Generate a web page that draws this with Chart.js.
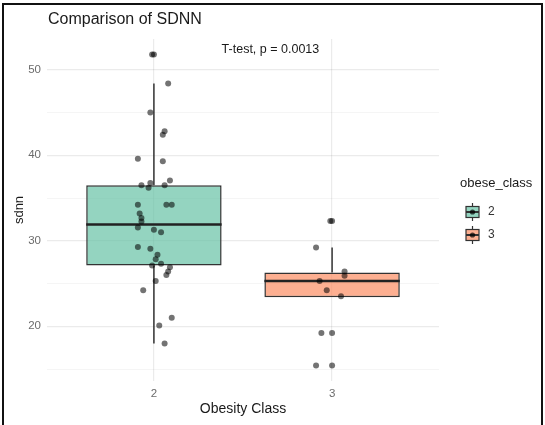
<!DOCTYPE html>
<html>
<head>
<meta charset="utf-8">
<script src="https://cdn.jsdelivr.net/npm/chart.js@4.4.0/dist/chart.umd.min.js"></script>
<style>
  body { margin: 0; background: #fff; }
  #wrap { position: relative; width: 545px; height: 425px; overflow: hidden; }
  #frame { position: absolute; left: 2px; top: 3px; width: 537px; height: 440px; border: 2px solid #111; pointer-events: none; }
</style>
</head>
<body>
<div id="wrap">
  <canvas id="sdnnChart" width="545" height="425"></canvas>
  <div id="frame"></div>
</div>
<script>
// groups and box statistics
var groups = [2, 3];
var groupLabels = ['2', '3'];
var boxQ1 = [27.1, 23.4];
var boxMedian = [31.9, 25.3];
var boxQ3 = [36.5, 26.3];
var whiskerLow = [18.0, 23.4];
var whiskerHigh = [48.4, 29.2];

// outliers (drawn at the group position)
var outliers2 = [51.8];
var outliers3 = [32.3, 19.2, 15.4];

// jittered raw points
var jitterX2 = [1.99, 2.08, 1.98, 2.06, 2.05, 1.91, 2.05, 2.09, 1.98, 1.93, 2.06, 1.97, 1.91, 2.07, 2.10, 1.92, 1.93, 1.93, 1.91, 2.00, 2.04, 1.91, 1.98, 2.02, 2.01, 2.04, 1.99, 2.09, 2.08, 2.07, 2.01, 1.94, 2.10, 2.03, 2.06];
var jitterY2 = [51.8, 48.4, 45.0, 42.8, 42.4, 39.6, 39.3, 37.05, 36.75, 36.5, 36.5, 36.2, 34.2, 34.2, 34.2, 33.2, 32.65, 32.25, 31.55, 31.3, 31.0, 29.26, 29.06, 28.36, 27.85, 27.3, 27.1, 26.9, 26.4, 26.0, 25.3, 24.2, 21.0, 20.1, 18.0];
var jitterX3 = [2.99, 2.91, 3.07, 3.07, 2.93, 2.97, 3.05, 2.94, 2.91];
var jitterY3 = [32.3, 29.2, 26.4, 25.9, 25.3, 24.2, 23.5, 19.2, 15.4];

// axis ticks
var yTicks = [15, 20, 25, 30, 35, 40, 45, 50];
var yLabelTicks = [20, 30, 40, 50];

var titleText = 'Comparison of SDNN';
var testText = 'T-test, p = 0.0013';
var legendTitle = 'obese_class';

var fillColors = ['rgba(102,194,165,0.7)', 'rgba(252,141,98,0.7)'];
var lineColor = '#333333';
var pointColor = 'rgba(0,0,0,0.55)';
var boxWidth = 0.76;
var fontFamily = '"Liberation Sans", Arial, Helvetica, sans-serif';

function toPoints(xs, ys) {
    var pts = [];
    for (let i = 0; i < ys.length; i++) {
        pts.push({ x: xs[i], y: ys[i] });
    }
    return pts;
}

var datasets = [];

// jitter points on top
datasets.push({
    type: 'scatter',
    data: toPoints(jitterX2, jitterY2).concat(toPoints(jitterX3, jitterY3)),
    backgroundColor: pointColor,
    borderWidth: 0,
    pointRadius: 3,
    order: 0
});

// outliers
datasets.push({
    type: 'scatter',
    data: outliers2.map(v => ({ x: groups[0], y: v })).concat(outliers3.map(v => ({ x: groups[1], y: v }))),
    backgroundColor: pointColor,
    borderWidth: 0,
    pointRadius: 3,
    order: 0
});

// medians and whiskers
for (let i = 0; i < groups.length; i++) {
    datasets.push({
        type: 'line',
        data: [{ x: groups[i] - boxWidth / 2, y: boxMedian[i] }, { x: groups[i] + boxWidth / 2, y: boxMedian[i] }],
        borderColor: '#222',
        borderWidth: 2.5,
        pointRadius: 0,
        order: 1
    });
    datasets.push({
        type: 'line',
        data: [{ x: groups[i], y: boxQ3[i] }, { x: groups[i], y: whiskerHigh[i] }],
        borderColor: lineColor,
        borderWidth: 1.5,
        pointRadius: 0,
        order: 2
    });
    if (whiskerLow[i] < boxQ1[i]) {
        datasets.push({
            type: 'line',
            data: [{ x: groups[i], y: boxQ1[i] }, { x: groups[i], y: whiskerLow[i] }],
            borderColor: lineColor,
            borderWidth: 1.5,
            pointRadius: 0,
            order: 2
        });
    }
}

// boxes as floating bars
datasets.push({
    type: 'bar',
    data: groups.map((g, i) => ({ x: g, y: [boxQ1[i], boxQ3[i]] })),
    backgroundColor: fillColors,
    borderColor: lineColor,
    borderWidth: 1.5,
    borderSkipped: false,
    barPercentage: boxWidth,
    categoryPercentage: 1,
    order: 3
});

var textPlugin = {
    id: 'textPlugin',
    afterDraw: function (chart) {
        var ctx = chart.ctx;
        var xs = chart.scales.x;
        var ys = chart.scales.y;
        ctx.save();

        // title
        ctx.fillStyle = '#1a1a1a';
        ctx.font = '16px ' + fontFamily;
        ctx.textAlign = 'left';
        ctx.textBaseline = 'middle';
        ctx.fillText(titleText, chart.chartArea.left + 1, 20);

        // test annotation
        ctx.font = '12.5px ' + fontFamily;
        ctx.fillText(testText, xs.getPixelForValue(2.38), ys.getPixelForValue(52.35));

        // legend
        ctx.font = '13px ' + fontFamily;
        ctx.fillStyle = '#1a1a1a';
        ctx.fillText(legendTitle, 460, 183);
        for (let i = 0; i < groupLabels.length; i++) {
            var cy = 212 + i * 23;
            var kx = 466, kw = 13;
            ctx.strokeStyle = lineColor;
            ctx.lineWidth = 1.2;
            ctx.beginPath();
            ctx.moveTo(kx + kw / 2, cy - 9);
            ctx.lineTo(kx + kw / 2, cy + 9);
            ctx.stroke();
            ctx.fillStyle = '#fff';
            ctx.fillRect(kx, cy - 5.5, kw, 11);
            ctx.fillStyle = fillColors[i];
            ctx.fillRect(kx, cy - 5.5, kw, 11);
            ctx.strokeRect(kx, cy - 5.5, kw, 11);
            ctx.lineWidth = 2;
            ctx.beginPath();
            ctx.moveTo(kx, cy);
            ctx.lineTo(kx + kw, cy);
            ctx.stroke();
            ctx.fillStyle = 'rgba(0,0,0,0.7)';
            ctx.beginPath();
            ctx.arc(kx + kw / 2, cy, 2.6, 0, Math.PI * 2);
            ctx.fill();
            ctx.fillStyle = '#333';
            ctx.font = '12px ' + fontFamily;
            ctx.fillText(groupLabels[i], 488, cy);
        }
        ctx.restore();
    }
};

var ctx = document.getElementById('sdnnChart');

new Chart(ctx, {
    type: 'bar',
    data: { datasets: datasets },
    options: {
        responsive: false,
        animation: false,
        layout: { padding: { left: 0, top: 39, right: 106, bottom: 0 } },
        plugins: {
            legend: { display: false },
            tooltip: { enabled: false }
        },
        scales: {
            x: {
                type: 'linear',
                min: 1.4,
                max: 3.6,
                offset: false,
                afterBuildTicks: function (axis) {
                    axis.ticks = groups.map(v => ({ value: v }));
                },
                afterFit: function (axis) { axis.height = 44; },
                border: { display: false },
                grid: { color: 'rgba(0,0,0,0.08)', lineWidth: 1.2, drawTicks: false, offset: false },
                ticks: {
                    padding: 6,
                    color: '#6b6b6b',
                    font: { family: fontFamily, size: 11.5 },
                    callback: function (v) { return String(v); }
                },
                title: {
                    display: true,
                    text: 'Obesity Class',
                    color: '#1a1a1a',
                    font: { family: fontFamily, size: 14 },
                    padding: { top: 0, bottom: 7 }
                }
            },
            y: {
                type: 'linear',
                min: 13.6,
                max: 53.6,
                afterBuildTicks: function (axis) {
                    axis.ticks = yTicks.map(v => ({ value: v }));
                },
                afterFit: function (axis) { axis.width = 47; },
                border: { display: false },
                grid: {
                    drawTicks: false,
                    color: function (c) {
                        return yLabelTicks.indexOf(c.tick.value) >= 0 ? 'rgba(0,0,0,0.08)' : 'rgba(0,0,0,0.05)';
                    },
                    lineWidth: function (c) {
                        return yLabelTicks.indexOf(c.tick.value) >= 0 ? 1.2 : 0.8;
                    }
                },
                ticks: {
                    padding: 6,
                    color: '#6b6b6b',
                    font: { family: fontFamily, size: 11.5 },
                    callback: function (v) {
                        return yLabelTicks.indexOf(v) >= 0 ? String(v) : '';
                    }
                },
                title: {
                    display: true,
                    text: 'sdnn',
                    color: '#1a1a1a',
                    font: { family: fontFamily, size: 13 },
                    padding: { top: 12, bottom: 0 }
                }
            }
        }
    },
    plugins: [textPlugin]
});
</script>
</body>
</html>
